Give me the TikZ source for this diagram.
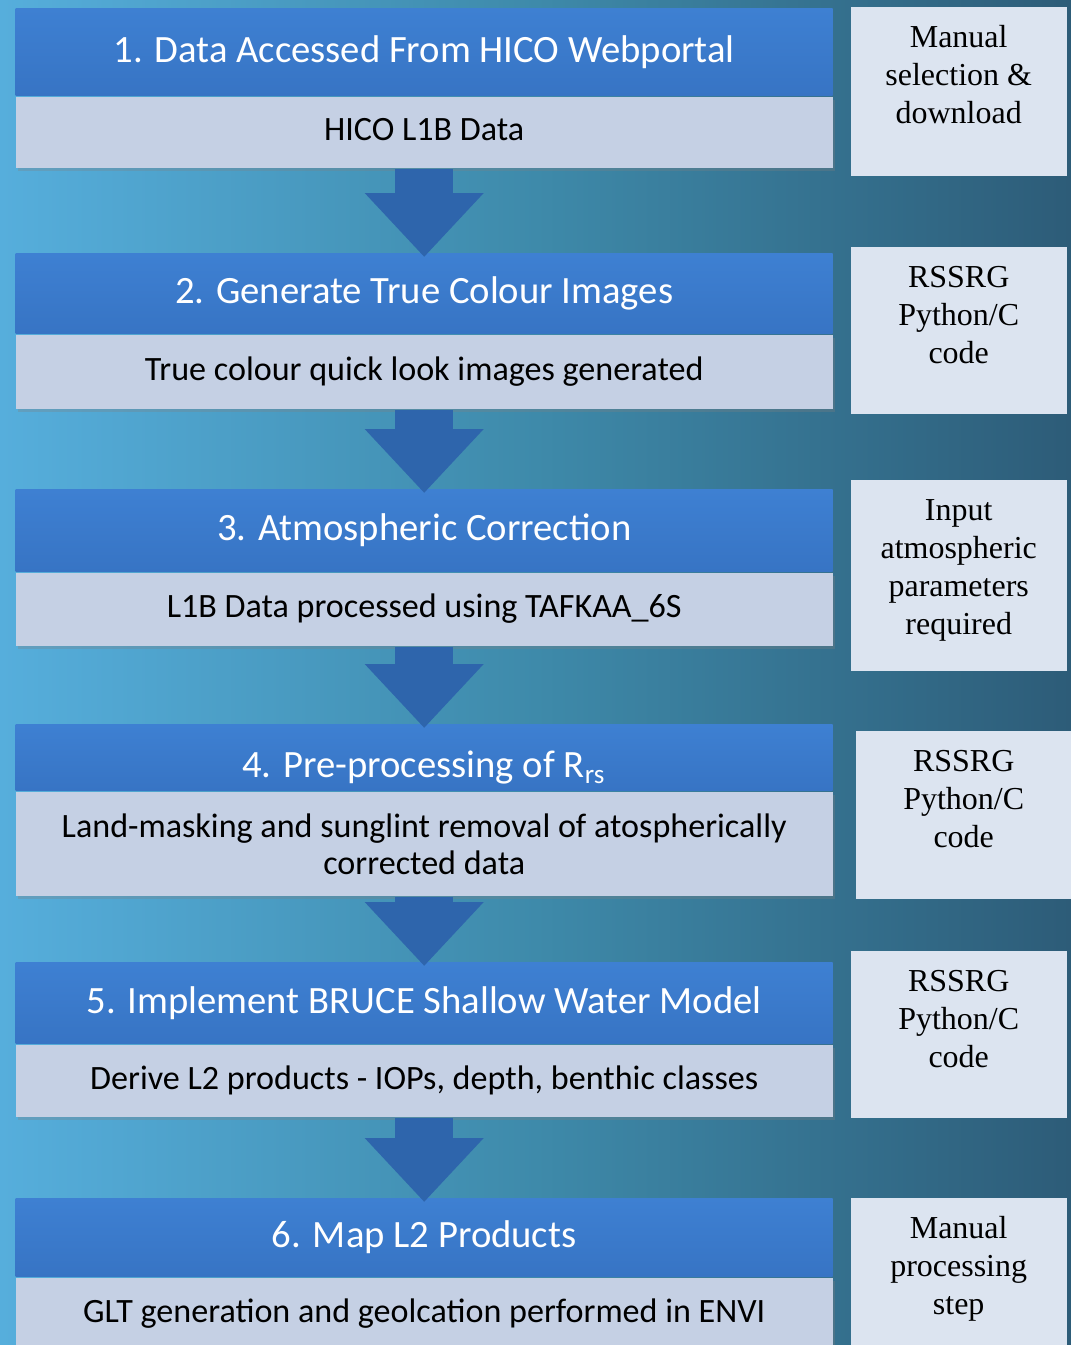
\documentclass[tikz,border=0pt]{standalone}
\usepackage{fontspec}
\setmainfont{Liberation Serif}
\newfontfamily\calib{Carlito}
\newfontfamily\timesf{Liberation Serif}
\usetikzlibrary{positioning,arrows.meta,shadows}
\definecolor{bgleft}{RGB}{86,174,220}
\definecolor{bgmid}{RGB}{62,138,170}
\definecolor{bgright}{RGB}{45,92,120}
\definecolor{headtop}{RGB}{62,128,210}
\definecolor{headbot}{RGB}{55,116,196}
\definecolor{bodygrey}{RGB}{197,208,228}
\definecolor{sidegrey}{RGB}{220,228,240}
\definecolor{arrowblue}{RGB}{46,101,172}
\begin{document}
\begin{tikzpicture}[
	stagehead/.style={rectangle,anchor=north west,minimum width=8.17cm,inner sep=0pt,top color=headtop,bottom color=headbot,text=white,text height=0.27cm,text depth=0.07cm,font=\calib\fontsize{11}{13}\selectfont},
	stagebody/.style={rectangle,anchor=north,minimum width=8.17cm,inner sep=0pt,fill=bodygrey,align=center,text height=0.22cm,text depth=0.06cm,font=\calib\fontsize{9.7}{10.6}\selectfont,drop shadow={opacity=0.3,shadow xshift=0.02cm,shadow yshift=-0.03cm}},
	sidebox/.style={rectangle,anchor=north west,minimum width=2.16cm,inner sep=0pt,fill=sidegrey},
	sidetext/.style={anchor=north,align=center,inner sep=0pt,font=\timesf\fontsize{9.1}{10.8}\selectfont},
	flowarrow/.style={draw=arrowblue,line width=0.58cm,-{Triangle[width=1.15cm,length=0.64cm]}}
]
	\useasboundingbox (0,0) rectangle (10.71,-13.45);
	\clip (0,0) rectangle (10.71,-13.45);
	\fill[left color=bgleft,right color=bgright,middle color=bgmid] (0,0) rectangle (10.71,-13.45);

	\node[stagehead,minimum height=0.87cm](h1) at (0.15,-0.08) {1. Data Accessed From HICO Webportal};
	\node[stagebody,minimum height=0.71cm](b1) at (h1.south) {HICO L1B Data};
	\node[stagehead,minimum height=0.80cm](h2) at (0.15,-2.53) {2. Generate True Colour Images};
	\node[stagebody,minimum height=0.74cm](b2) at (h2.south) {True colour quick look images generated};
	\node[stagehead,minimum height=0.82cm](h3) at (0.15,-4.89) {3. Atmospheric Correction};
	\node[stagebody,minimum height=0.73cm](b3) at (h3.south) {L1B Data processed using TAFKAA\_6S};
	\node[stagehead,minimum height=0.66cm,text height=0.44cm,text depth=0.04cm](h4) at (0.15,-7.24) {4. Pre-processing of R\textsubscript{rs}};
	\node[stagebody,minimum height=1.04cm,text height={},text depth={}](b4) at (h4.south) {Land-masking and sunglint removal of atospherically\\corrected data};
	\node[stagehead,minimum height=0.81cm](h5) at (0.15,-9.62) {5. Implement BRUCE Shallow Water Model};
	\node[stagebody,minimum height=0.72cm](b5) at (h5.south) {Derive L2 products - IOPs, depth, benthic classes};
	\node[stagehead,minimum height=0.78cm](h6) at (0.15,-11.98) {6. Map L2 Products};
	\node[stagebody,minimum height=0.72cm](b6) at (h6.south) {GLT generation and geolcation performed in ENVI};

	\draw[flowarrow] (b1.south) -- ([yshift=-0.04cm]h2.north);
	\draw[flowarrow] (b2.south) -- ([yshift=-0.04cm]h3.north);
	\draw[flowarrow] (b3.south) -- ([yshift=-0.04cm]h4.north);
	\draw[flowarrow] (b4.south) -- ([yshift=-0.04cm]h5.north);
	\draw[flowarrow] (b5.south) -- ([yshift=-0.04cm]h6.north);

	\node[sidebox,minimum height=1.69cm](s1) at (8.50,-0.06) {};
	\node[sidetext,below=0.19cm of s1.north](t1) {Manual\\selection \&\\download};
	\node[sidebox,minimum height=1.67cm](s2) at (8.50,-2.46) {};
	\node[sidetext,below=0.20cm of s2.north](t2) {RSSRG\\Python/C\\code};
	\node[sidebox,minimum height=1.91cm](s3) at (8.50,-4.79) {};
	\node[sidetext,below=0.20cm of s3.north](t3) {Input\\atmospheric\\parameters\\required};
	\node[sidebox,minimum height=1.68cm](s4) at (8.55,-7.30) {};
	\node[sidetext,below=0.20cm of s4.north](t4) {RSSRG\\Python/C\\code};
	\node[sidebox,minimum height=1.67cm](s5) at (8.50,-9.50) {};
	\node[sidetext,below=0.20cm of s5.north](t5) {RSSRG\\Python/C\\code};
	\node[sidebox,minimum height=1.60cm](s6) at (8.50,-11.97) {};
	\node[sidetext,below=0.19cm of s6.north](t6) {Manual\\processing\\step};
\end{tikzpicture}
\end{document}
